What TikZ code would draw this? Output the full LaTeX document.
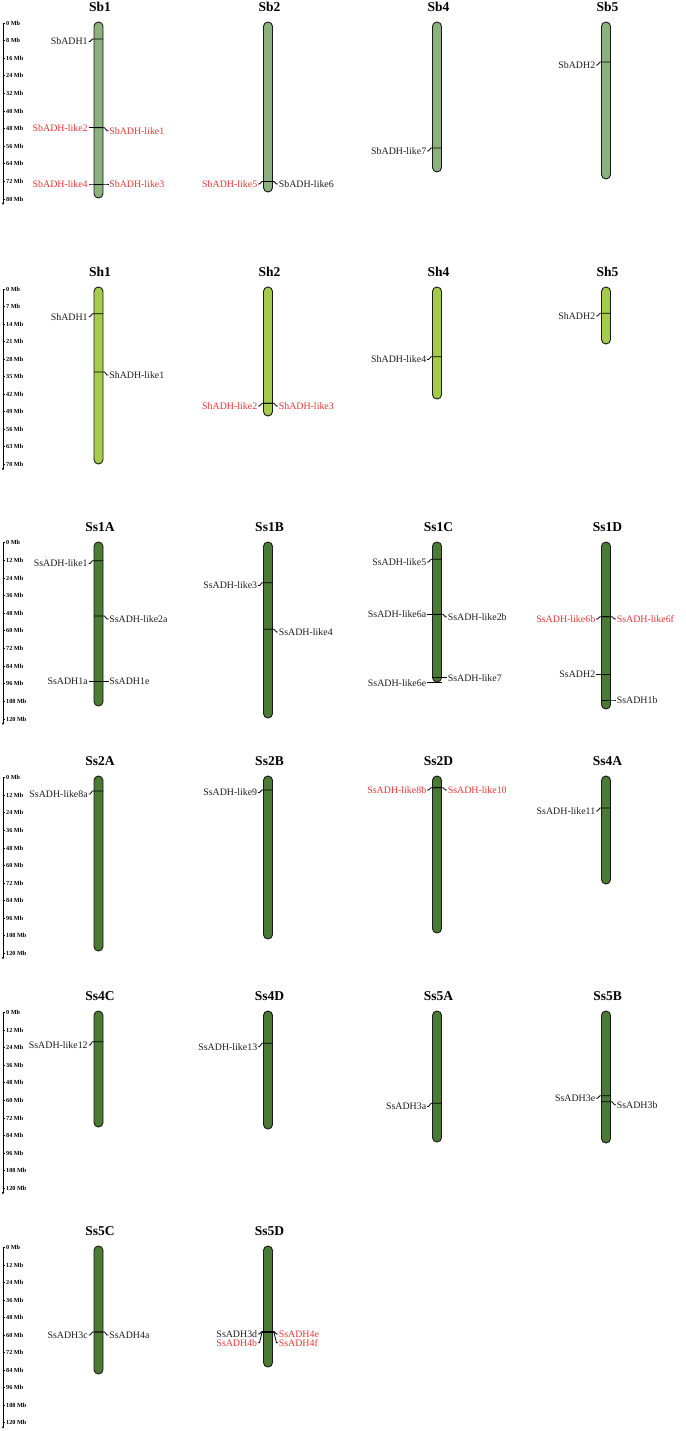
\documentclass[tikz,border=0pt]{standalone}
\usepackage{fontspec}
\setmainfont{Liberation Serif}
\usetikzlibrary{arrows.meta}
\definecolor{sbfill}{RGB}{141,176,127}
\definecolor{shfill}{RGB}{164,203,74}
\definecolor{ssfill}{RGB}{75,122,53}
\definecolor{gred}{RGB}{238,52,52}
\definecolor{gblk}{RGB}{30,30,30}
\tikzset{
  chromline/.style={draw=black!90,line width=0.9pt},
  gline/.style={draw=black,line width=0.8pt},
  glab/.style={inner sep=0.6pt,font=\fontsize{9.9}{11}\selectfont},
  ttl/.style={inner sep=0pt,font=\fontsize{13.5}{15}\selectfont\bfseries},
  sclab/.style={inner sep=0pt,anchor=west,font=\fontsize{6.2}{7}\selectfont\bfseries},
  axisline/.style={draw=black,line width=0.8pt},
}
\newcommand\chromo[6]{%
  \draw[chromline,fill=#5,rounded corners=4.4pt] (#2-4.5,#3) rectangle (#2+4.5,#4);
  \node[ttl] (#1) at (#2+1.5,#3-15) {#6};
}
\newcommand\geneL[6]{%
  \node[glab,text=#6,anchor=east] (#1) at (#2-10,#4) {#5};
  \draw[gline] (#2+4.5,#3) -- (#2-6,#3) -- (#2-8.5,#4) -- (#1.east);
}
\newcommand\geneR[6]{%
  \node[glab,text=#6,anchor=west] (#1) at (#2+10,#4) {#5};
  \draw[gline] (#2-4.5,#3) -- (#2+6,#3) -- (#2+8.5,#4) -- (#1.west);
}
\newcommand\scalebar[5]{% name, top, step, unit, n
  \coordinate (#1top) at (3,#2);
  \coordinate (#1end) at (3,{#2+#5*#3+6});
  \draw[axisline,-{Stealth[length=2.5pt,width=2.4pt]}] (#1top) -- (#1end);
  \foreach \i in {0,...,#5}{%
    \pgfmathtruncatemacro\mb{\i*#4}%
    \draw[axisline] (3,{#2+\i*#3}) -- (5.2,{#2+\i*#3});
    \node[sclab] (#1l\i) at (6,{#2+\i*#3}) {\mb{} Mb};
  }
}
\begin{document}
\begin{tikzpicture}[x=1pt,y=-1pt]
\useasboundingbox (0,0) rectangle (685,1431);
\fill[white] (0,0) rectangle (685,1431);
% ---------- scales ----------
\scalebar{sa}{23}{17.6}{8}{10}
\scalebar{sb}{289.3}{17.5}{7}{10}
\scalebar{sc}{542.7}{17.63}{12}{10}
\scalebar{sd}{777.7}{17.56}{12}{10}
\scalebar{se}{1012.3}{17.6}{12}{10}
\scalebar{sf}{1247.7}{17.5}{12}{10}
% ---------- row 1: Sorghum bicolor ----------
\chromo{Sb1}{98.5}{22}{198}{sbfill}{Sb1}
\chromo{Sb2}{268}{22}{192}{sbfill}{Sb2}
\chromo{Sb4}{437}{22}{172}{sbfill}{Sb4}
\chromo{Sb5}{606}{22}{179}{sbfill}{Sb5}
\geneL{sbadh1}{98.5}{39}{41.5}{SbADH1}{gblk}
\geneL{sbl2}{98.5}{127.7}{127.7}{SbADH-like2}{gred}
\geneR{sbl1}{98.5}{127.7}{130.7}{SbADH-like1}{gred}
\geneL{sbl4}{98.5}{184}{184}{SbADH-like4}{gred}
\geneR{sbl3}{98.5}{184}{184}{SbADH-like3}{gred}
\geneL{sbl5}{268}{181.5}{184}{SbADH-like5}{gred}
\geneR{sbl6}{268}{181.5}{184}{SbADH-like6}{gblk}
\geneL{sbl7}{437}{148}{151}{SbADH-like7}{gblk}
\geneL{sbadh2}{606}{62}{65}{SbADH2}{gblk}
% ---------- row 2: Sorghum halepense ----------
\chromo{Sh1}{98.5}{287}{464}{shfill}{Sh1}
\chromo{Sh2}{268}{287}{416}{shfill}{Sh2}
\chromo{Sh4}{437}{287}{399}{shfill}{Sh4}
\chromo{Sh5}{606}{287}{344}{shfill}{Sh5}
\geneL{shadh1}{98.5}{313.7}{316.7}{ShADH1}{gblk}
\geneR{shl1}{98.5}{372}{375}{ShADH-like1}{gblk}
\geneL{shl2}{268}{403.3}{406}{ShADH-like2}{gred}
\geneR{shl3}{268}{403.3}{406}{ShADH-like3}{gred}
\geneL{shl4}{437}{356.7}{359.5}{ShADH-like4}{gblk}
\geneL{shadh2}{606}{313.3}{316}{ShADH2}{gblk}
% ---------- row 3: Ss1 ----------
\chromo{Ss1A}{98.5}{542}{706}{ssfill}{Ss1A}
\chromo{Ss1B}{268}{542}{718}{ssfill}{Ss1B}
\chromo{Ss1C}{437}{542}{682}{ssfill}{Ss1C}
\chromo{Ss1D}{606}{542}{709}{ssfill}{Ss1D}
\geneL{ssl1}{98.5}{560.7}{563.5}{SsADH-like1}{gblk}
\geneR{ssl2a}{98.5}{616}{619}{SsADH-like2a}{gblk}
\geneL{ssadh1a}{98.5}{681.7}{681.7}{SsADH1a}{gblk}
\geneR{ssadh1e}{98.5}{681.7}{681.7}{SsADH1e}{gblk}
\geneL{ssl3}{268}{582.7}{585.5}{SsADH-like3}{gblk}
\geneR{ssl4}{268}{629.3}{632}{SsADH-like4}{gblk}
\geneL{ssl5}{437}{559.3}{562}{SsADH-like5}{gblk}
\geneL{ssl6a}{437}{614.3}{614.3}{SsADH-like6a}{gblk}
\geneR{ssl2b}{437}{614.3}{617}{SsADH-like2b}{gblk}
\geneR{ssl7}{437}{677.7}{677.7}{SsADH-like7}{gblk}
\geneL{ssl6e}{437}{682.7}{682.7}{SsADH-like6e}{gblk}
\geneL{ssl6b}{606}{616.7}{619}{SsADH-like6b}{gred}
\geneR{ssl6f}{606}{616.7}{619}{SsADH-like6f}{gred}
\geneL{ssadh2}{606}{674.3}{674.3}{SsADH2}{gblk}
\geneR{ssadh1b}{606}{700}{700}{SsADH1b}{gblk}
% ---------- row 4 ----------
\chromo{Ss2A}{98.5}{776}{951}{ssfill}{Ss2A}
\chromo{Ss2B}{268}{776}{939}{ssfill}{Ss2B}
\chromo{Ss2D}{437}{776}{933}{ssfill}{Ss2D}
\chromo{Ss4A}{606}{776}{884}{ssfill}{Ss4A}
\geneL{ssl8a}{98.5}{791}{794}{SsADH-like8a}{gblk}
\geneL{ssl9}{268}{790}{792.5}{SsADH-like9}{gblk}
\geneL{ssl8b}{437}{787.7}{790}{SsADH-like8b}{gred}
\geneR{ssl10}{437}{787.7}{790}{SsADH-like10}{gred}
\geneL{ssl11}{606}{808}{811}{SsADH-like11}{gblk}
% ---------- row 5 ----------
\chromo{Ss4C}{98.5}{1011}{1127}{ssfill}{Ss4C}
\chromo{Ss4D}{268}{1011}{1129}{ssfill}{Ss4D}
\chromo{Ss5A}{437}{1011}{1142}{ssfill}{Ss5A}
\chromo{Ss5B}{606}{1011}{1143}{ssfill}{Ss5B}
\geneL{ssl12}{98.5}{1041.7}{1045}{SsADH-like12}{gblk}
\geneL{ssl13}{268}{1043.3}{1046.7}{SsADH-like13}{gblk}
\geneL{ssadh3a}{437}{1103.3}{1106.5}{SsADH3a}{gblk}
\geneL{ssadh3e}{606}{1095.7}{1098.3}{SsADH3e}{gblk}
\geneR{ssadh3b}{606}{1101.7}{1104.7}{SsADH3b}{gblk}
% ---------- row 6 ----------
\chromo{Ss5C}{98.5}{1246}{1374}{ssfill}{Ss5C}
\chromo{Ss5D}{268}{1246}{1367}{ssfill}{Ss5D}
\geneL{ssadh3c}{98.5}{1332}{1335}{SsADH3c}{gblk}
\geneR{ssadh4a}{98.5}{1332}{1335}{SsADH4a}{gblk}
\geneL{ssadh3d}{268}{1331.5}{1334}{SsADH3d}{gblk}
\geneL{ssadh4b}{268}{1332.5}{1342.8}{SsADH4b}{gred}
\geneR{ssadh4e}{268}{1331.5}{1334}{SsADH4e}{gred}
\geneR{ssadh4f}{268}{1332.5}{1342.8}{SsADH4f}{gred}
\end{tikzpicture}
\end{document}
